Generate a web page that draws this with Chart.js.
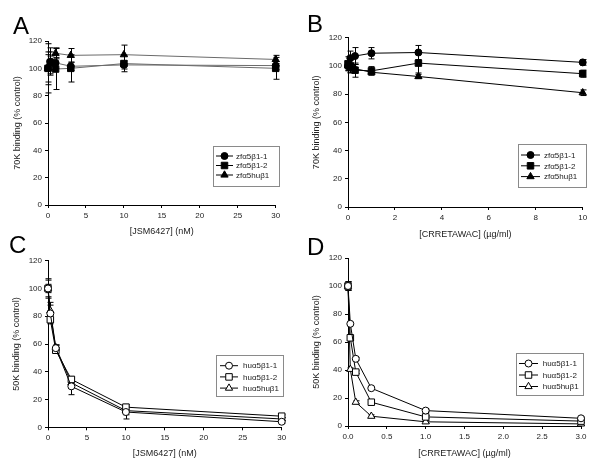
<!DOCTYPE html>
<html><head><meta charset="utf-8">
<script src="https://cdn.jsdelivr.net/npm/chart.js@4/dist/chart.umd.min.js"></script>
<style>
html,body{margin:0;padding:0;background:#fff;width:600px;height:466px;overflow:hidden;}
.panel{position:absolute;}
.panel canvas{display:block;}
.letter{position:absolute;font-family:"Liberation Sans",Arial,sans-serif;font-size:24px;line-height:1;color:#000;}
</style></head><body>
<div class="panel" style="left:0;top:0"><canvas id="cA" width="300" height="240"></canvas></div>
<div class="panel" style="left:300px;top:0"><canvas id="cB" width="300" height="242"></canvas></div>
<div class="panel" style="left:0;top:233px"><canvas id="cC" width="300" height="233"></canvas></div>
<div class="panel" style="left:300px;top:233px"><canvas id="cD" width="300" height="233"></canvas></div>
<div class="letter" style="left:13px;top:14px">A</div>
<div class="letter" style="left:307px;top:12px">B</div>
<div class="letter" style="left:9px;top:233px">C</div>
<div class="letter" style="left:307px;top:235px">D</div>
<script>
// ---- Data ----
const xA = [0, 0.3, 1, 3, 10, 30];
const aZf1 = [100, 105, 104, 101.5, 102.5, 102];
const aZf1Err = [10, 10, 4, 3, 3, 3];
const aZf2 = [100, 104, 99.5, 100, 103.5, 100];
const aZf2Err = [12, 5, 15, 10, 6, 8];
const aZfHu = [100, 104, 111, 109.5, 110, 106.5];
const aZfHuErr = [18, 8, 4, 5, 7, 3];

const xB = [0, 0.1, 0.3, 1, 3, 10];
const bZf1 = [100, 105.5, 107, 109, 109.5, 102.5];
const bZf1Err = [3, 5, 6, 4, 5, 2];
const bZf2 = [101.5, 100, 97, 96.5, 102, 94.5];
const bZf2Err = [5, 5, 5, 3, 7, 2.5];
const bZfHu = [100, 98.5, 98, 95.5, 92.5, 81];
const bZfHuErr = [3, 3, 3, 2, 1.5, 2];

const xC = [0, 0.3, 1, 3, 10, 30];
const cHu1 = [100, 82, 57, 29.5, 11, 4];
const cHu1Err = [7, 6, 2, 6, 5, 1];
const cHu2 = [100, 77.5, 55.5, 34.5, 14.5, 8];
const cHu2Err = [3, 3, 2, 2, 2, 1];
const cHuHu = [100, 84, 57.5, 32, 12, 6];
const cHuHuErr = [6, 6, 2, 3, 3, 1];

const xD = [0, 0.03, 0.1, 0.3, 1, 3];
const dHu1 = [100, 73, 48, 27, 11, 5.5];
const dHu1Err = [3, 1, 1, 1, 1, 1];
const dHu2 = [100, 63, 38.5, 17, 6.5, 3.5];
const dHu2Err = [3, 1, 1, 1, 1, 1];
const dHuHu = [100, 40.5, 17, 7, 3, 1.5];
const dHuHuErr = [3, 1, 1, 1, 1, 1];

const zfLabels = ['zfα5β1-1', 'zfα5β1-2', 'zfα5huβ1'];
const huLabels = ['huα5β1-1', 'huα5β1-2', 'huα5huβ1'];
const yTicksMax = 120, yStep = 20;

// ---- Plugins ----
Chart.defaults.font.family = '"Liberation Sans", Arial, sans-serif';

const errorBarPlugin = {
  id: 'errorBars',
  beforeDatasetsDraw(chart) {
    const ctx = chart.ctx, xs = chart.scales.x, ys = chart.scales.y;
    ctx.save();
    ctx.strokeStyle = '#000'; ctx.lineWidth = 1;
    chart.data.datasets.forEach(ds => {
      if (!ds.errors) return;
      ds.data.forEach((p, i) => {
        const e = ds.errors[i]; if (!e) return;
        const px = Math.round(xs.getPixelForValue(p.x)) + 0.5;
        const y1 = ys.getPixelForValue(p.y + e), y2 = ys.getPixelForValue(p.y - e);
        ctx.beginPath();
        ctx.moveTo(px, y1); ctx.lineTo(px, y2);
        ctx.moveTo(px - 3, y1); ctx.lineTo(px + 3, y1);
        ctx.moveTo(px - 3, y2); ctx.lineTo(px + 3, y2);
        ctx.stroke();
      });
    });
    ctx.restore();
  }
};

const boxLegendPlugin = {
  id: 'boxLegend',
  afterDraw(chart, args, o) {
    if (!o || o.left === undefined) return;
    const ctx = chart.ctx;
    ctx.save();
    ctx.fillStyle = '#fff';
    ctx.fillRect(o.left, o.top, o.width, o.height);
    ctx.strokeStyle = '#8a8a8a'; ctx.lineWidth = 1;
    ctx.strokeRect(o.left + 0.5, o.top + 0.5, o.width, o.height);
    chart.data.datasets.forEach((ds, i) => {
      const y = o.firstRow + i * o.rowGap;
      ctx.strokeStyle = o.lineColor; ctx.lineWidth = 1;
      ctx.beginPath(); ctx.moveTo(o.lineStart, y); ctx.lineTo(o.lineEnd, y); ctx.stroke();
      ctx.fillStyle = ds.pointBackgroundColor; ctx.strokeStyle = ds.pointBorderColor;
      ctx.lineWidth = 1;
      Chart.helpers.drawPoint(ctx, {pointStyle: ds.pointStyle, radius: ds.pointRadius, borderWidth: 1, rotation: 0}, (o.lineStart + o.lineEnd) / 2, y);
      ctx.fillStyle = '#222';
      ctx.font = '8px "Liberation Sans", Arial, sans-serif';
      ctx.textBaseline = 'middle'; ctx.textAlign = 'left';
      ctx.fillText(ds.label, o.textX, y + 0.5);
    });
    ctx.restore();
  }
};

function pts(xs, ys) { return xs.map((x, i) => ({x: x, y: ys[i]})); }

function ds(label, xs, ys, errs, style, radius, filled, lineColor) {
  return {
    label: label, data: pts(xs, ys), errors: errs,
    borderColor: lineColor, borderWidth: 1,
    pointStyle: style, pointRadius: radius, pointHoverRadius: radius,
    pointBackgroundColor: filled ? '#000' : '#fff', pointBorderColor: '#000', pointBorderWidth: 1,
    showLine: true, tension: 0, clip: false
  };
}

function makeChart(id, datasets, cfg) {
  return new Chart(document.getElementById(id), {
    type: 'scatter',
    data: {datasets: datasets},
    plugins: [errorBarPlugin, boxLegendPlugin],
    options: {
      responsive: false, animation: false,
      layout: {padding: {left: 0, top: cfg.padTop, right: cfg.padRight, bottom: 0}},
      plugins: {legend: {display: false}, tooltip: {enabled: false}, boxLegend: cfg.legend},
      scales: {
        x: {
          type: 'linear', min: 0, max: cfg.xMax,
          ticks: {stepSize: cfg.xStep, padding: 3, color: '#222', font: {size: 8}, maxRotation: 0, autoSkip: false,
                  callback: cfg.xFmt || (v => String(v))},
          grid: {drawOnChartArea: false, drawTicks: true, tickLength: 3, color: '#000'},
          border: {color: '#000', width: 1},
          title: {display: true, text: cfg.xTitle, color: '#222', font: {size: 9}, padding: {top: 0, bottom: cfg.xTitlePad}},
          afterFit(s) { s.height = cfg.xAxisH; }
        },
        y: {
          type: 'linear', min: 0, max: yTicksMax,
          ticks: {stepSize: yStep, padding: 3, color: '#222', font: {size: 8}},
          grid: {drawOnChartArea: false, drawTicks: true, tickLength: 3, color: '#000'},
          border: {color: '#000', width: 1},
          title: {display: true, text: cfg.yTitle, color: '#222', font: {size: 9}, padding: {top: cfg.yTitlePad, bottom: 0}},
          afterFit(s) { s.width = 48; }
        }
      }
    }
  });
}

const lineA = '#6a6a6a';
makeChart('cA', [
  ds(zfLabels[0], xA, aZf1, aZf1Err, 'circle', 3.5, true, lineA),
  ds(zfLabels[1], xA, aZf2, aZf2Err, 'rect', 4.6, true, lineA),
  ds(zfLabels[2], xA, aZfHu, aZfHuErr, 'triangle', 4.2, true, lineA)
], {padTop: 41, padRight: 24.3, xMax: 30, xStep: 5, xTitle: '[JSM6427] (nM)', yTitle: '70K binding (% control)',
    xAxisH: 35, xTitlePad: 2.9, yTitlePad: 12.6,
    legend: {left: 213, top: 146, width: 66, height: 40, firstRow: 156, rowGap: 9.5, lineStart: 216, lineEnd: 233, textX: 236, lineColor: '#000'}});

makeChart('cB', [
  ds(zfLabels[0], xB, bZf1, bZf1Err, 'circle', 3.5, true, '#000'),
  ds(zfLabels[1], xB, bZf2, bZf2Err, 'rect', 4.6, true, '#000'),
  ds(zfLabels[2], xB, bZfHu, bZfHuErr, 'triangle', 4.2, true, '#000')
], {padTop: 37.7, padRight: 17.3, xMax: 10, xStep: 2, xTitle: '[CRRETAWAC] (µg/ml)', yTitle: '70K binding (% control)',
    xAxisH: 35, xTitlePad: 2.1, yTitlePad: 11.3,
    legend: {left: 218, top: 144, width: 68, height: 43, firstRow: 155, rowGap: 10.8, lineStart: 221, lineEnd: 240, textX: 244, lineColor: '#000'}});

makeChart('cC', [
  ds(huLabels[0], xC, cHu1, cHu1Err, 'circle', 3.5, false, '#000'),
  ds(huLabels[1], xC, cHu2, cHu2Err, 'rect', 4.6, false, '#000'),
  ds(huLabels[2], xC, cHuHu, cHuHuErr, 'triangle', 4.2, false, '#000')
], {padTop: 27.7, padRight: 18.3, xMax: 30, xStep: 5, xTitle: '[JSM6427] (nM)', yTitle: '50K binding (% control)',
    xAxisH: 38.7, xTitlePad: 7.3, yTitlePad: 11.3,
    legend: {left: 216, top: 122, width: 67, height: 41, firstRow: 132.7, rowGap: 11.2, lineStart: 220, lineEnd: 238, textX: 243, lineColor: '#000'}});

makeChart('cD', [
  ds(huLabels[0], xD, dHu1, dHu1Err, 'circle', 3.5, false, '#000'),
  ds(huLabels[1], xD, dHu2, dHu2Err, 'rect', 4.6, false, '#000'),
  ds(huLabels[2], xD, dHuHu, dHuHuErr, 'triangle', 4.2, false, '#000')
], {padTop: 25, padRight: 19, xMax: 3, xStep: 0.5, xTitle: '[CRRETAWAC] (µg/ml)', yTitle: '50K binding (% control)',
    xFmt: v => Number(v).toFixed(1),
    xAxisH: 40, xTitlePad: 7.3, yTitlePad: 11.3,
    legend: {left: 216, top: 120, width: 67, height: 42, firstRow: 130.5, rowGap: 11.5, lineStart: 219, lineEnd: 238, textX: 242.7, lineColor: '#000'}});
</script>
</body></html>
